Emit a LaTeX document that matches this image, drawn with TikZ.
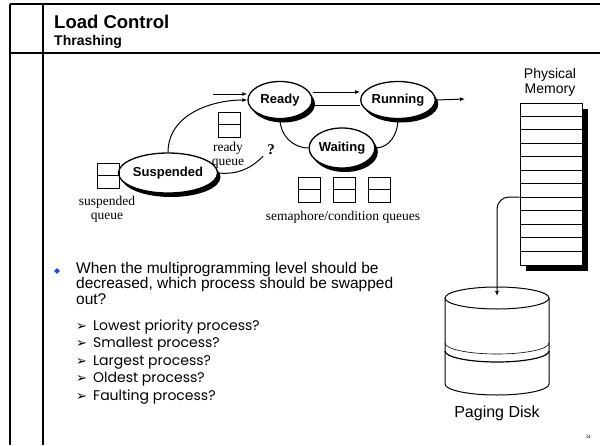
\documentclass[tikz,border=0pt]{standalone}
\usepackage{fontspec}
\setmainfont{Liberation Serif}
\setsansfont{Liberation Sans}
\newfontfamily\dingfont{DejaVu Sans}
\newfontfamily\handfont{Poppins}
\usepackage{tikz}
\usetikzlibrary{arrows.meta,positioning,shapes.geometric,shadows,backgrounds}
\definecolor{bulletblue}{HTML}{1F3FE8}
\newcommand{\fs}[2]{\fontsize{#1}{#2}\selectfont}
\tikzset{
  statenode/.style={
    ellipse, draw, line width=1.3pt, fill=white, inner sep=0pt,
    font=\sffamily\bfseries\fs{13}{14},
    general shadow={fill=black, shadow xshift=3pt, shadow yshift=-4pt}
  },
  queuebox/.style={
    rectangle, draw, line width=1pt, minimum width=22pt, minimum height=25pt,
    inner sep=0pt,
    path picture={\draw[line width=1pt] (path picture bounding box.west) -- (path picture bounding box.east);}
  },
  qlabel/.style={font=\rmfamily\fs{13.5}{13.5}, align=center, inner sep=0pt},
  flowarrow/.style={-{Latex[length=5pt,width=4pt]}, line width=1pt},
  link/.style={line width=1pt},
}

\begin{document}
\begin{tikzpicture}[x=1pt, y=-1pt]
  \useasboundingbox (0,0) rectangle (600,445);
  % slide frame
  \draw[line width=2pt] (10,4) -- (600,4);
  \draw[line width=1.5pt] (10,53) -- (600,53);
  \draw[line width=2pt] (10,4) -- (10,445);
  \draw[line width=1.2pt] (43,4) -- (43,445);
  \node[anchor=base west, inner sep=0pt, font=\sffamily\bfseries\fs{18.5}{20}] (title) at (54,28) {Load Control};
  \node[anchor=base west, inner sep=0pt, font=\sffamily\bfseries\fs{14}{16}] (subtitle) at (54,45) {Thrashing};

  % process states
  \node[statenode, minimum width=64pt, minimum height=37pt] (ready) at (280,100) {Ready};
  \node[statenode, minimum width=60pt, minimum height=37pt] (running) at (398,100) {Running};
  \node[statenode, minimum width=61pt, minimum height=40pt] (waiting) at (342,148) {Waiting};
  \node[statenode, minimum width=80pt, minimum height=40pt] (suspended) at (168,173) {Suspended};
  \node[font=\rmfamily\bfseries\fs{15}{15}, inner sep=1pt] (qm) at (271,150) {?};

  % queues
  \node[queuebox] (readyq) at (229,124.5) {};
  \node[queuebox] (suspq) at (108,175.5) {};
  \node[queuebox] (semq1) at (309.5,189.5) {};
  \node[queuebox, right=12pt of semq1] (semq2) {};
  \node[queuebox, right=12pt of semq2] (semq3) {};
  \node[qlabel] (readyql) at (228,155) {ready\\queue};
  \node[qlabel] (suspql) at (107,209) {suspended\\queue};
  \node[qlabel] (semql) at (343,217) {semaphore/condition queues};

  \coordinate (newin) at (213,94);
  \coordinate (exitout) at (465,99);
  \begin{scope}[on background layer]
    \draw[flowarrow] (newin) -- (newin -| ready.west);
    \draw[flowarrow] (suspended.north) to[out=90, in=180] (ready.west);
    \draw[link] (suspended.east) to[out=-5, in=225] ([xshift=-3pt]qm.south west);
    \draw[flowarrow] ([yshift=8pt]ready.east) -- ([yshift=8pt]running.west);
    \draw[link] ([yshift=-5pt]ready.east) -- ([yshift=-5pt]running.west);
    \draw[flowarrow] (running.east) -- (exitout);
    \draw[link] (ready.south) to[out=-90, in=180] (waiting.west);
    \draw[link] (waiting.east) to[out=0, in=-90] (running.south);
  \end{scope}

  % physical memory
  \node[font=\sffamily\fs{14}{15}, align=center, inner sep=0pt] (memlabel) at (550,82) {Physical\\Memory};
  \node[rectangle, draw, line width=1pt, fill=white, minimum width=62pt, minimum height=162pt,
        inner sep=0pt, general shadow={fill=black, shadow xshift=6pt, shadow yshift=-6pt}] (mem) at (551,184) {};
  \foreach \i in {1,...,11}
    \draw[line width=1pt] ([yshift=-\i*13.5pt]mem.north west) -- ([yshift=-\i*13.5pt]mem.north east);

  % paging disk
  \draw[line width=1pt, fill=white] (445,298) -- (445,384)
    arc[start angle=180, end angle=360, x radius=52pt, y radius=11pt] -- (549,298);
  \draw[line width=1pt] (497,298) ellipse [x radius=52pt, y radius=11pt];
  \draw[line width=0.6pt] (445,343) arc[start angle=180, end angle=360, x radius=52pt, y radius=11pt];
  \draw[line width=1.2pt] (445,351) arc[start angle=180, end angle=360, x radius=52pt, y radius=11pt];
  \coordinate (disktop) at (497,296);
  \node[font=\sffamily\fs{16}{18}] (disklabel) at (497,413) {Paging Disk};
  \draw[flowarrow, rounded corners=12pt] ([yshift=-13pt]mem.west) -| (disktop);

  % text
  \node[diamond, fill=bulletblue, inner sep=0pt, minimum size=6pt] (dot) at (57,271) {};
  \node[anchor=north west, inner sep=0pt, align=left, font=\sffamily\fs{15.5}{15.5}] (question) at (76,262)
    {When the multiprogramming level should be\\decreased, which process should be swapped\\out?};
  \foreach \txt [count=\i] in {Lowest priority process?, Smallest process?, Largest process?, Oldest process?, Faulting process?}
    \node[anchor=base west, inner sep=0pt, font=\handfont\fs{14}{15}] (item\i) at (76,312.5+\i*17.5)
      {\makebox[17pt][l]{\dingfont\fs{13}{13}➢}\txt};
  \node[font=\rmfamily\fs{5}{5}] (pageno) at (588,437) {34};
\end{tikzpicture}
\end{document}
